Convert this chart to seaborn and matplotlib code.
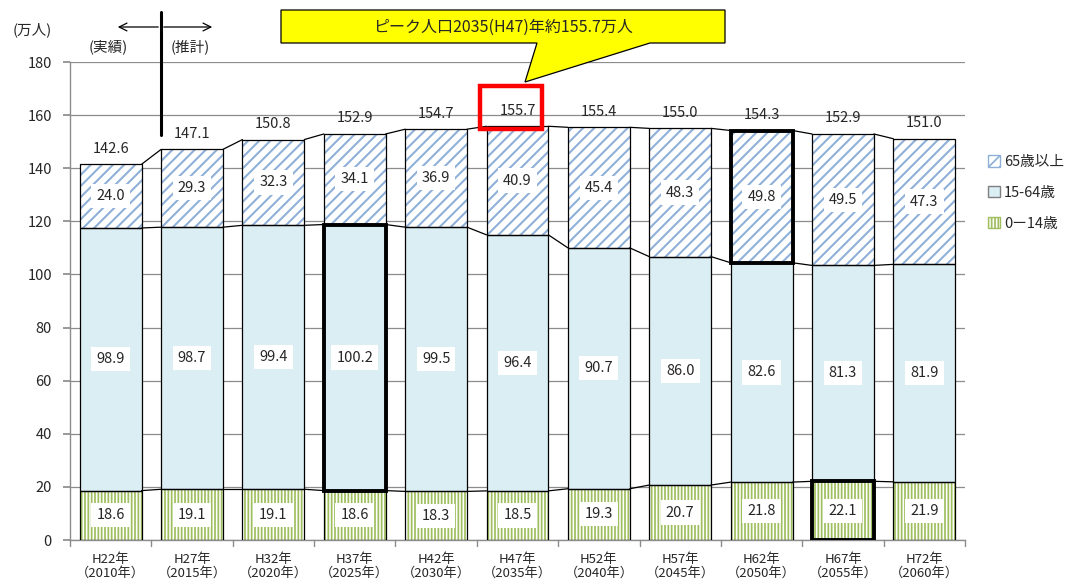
import numpy as np
import pandas as pd
import matplotlib
matplotlib.use("Agg")
import matplotlib.pyplot as plt
from matplotlib.patches import Rectangle, Polygon, Patch
import seaborn as sns

# ---------------- data ----------------
categories = ["H22年\n（2010年）", "H27年\n（2015年）", "H32年\n（2020年）", "H37年\n（2025年）",
              "H42年\n（2030年）", "H47年\n（2035年）", "H52年\n（2040年）", "H57年\n（2045年）",
              "H62年\n（2050年）", "H67年\n（2055年）", "H72年\n（2060年）"]
age_0_14 = [18.6, 19.1, 19.1, 18.6, 18.3, 18.5, 19.3, 20.7, 21.8, 22.1, 21.9]
age_15_64 = [98.9, 98.7, 99.4, 100.2, 99.5, 96.4, 90.7, 86.0, 82.6, 81.3, 81.9]
age_65 = [24.0, 29.3, 32.3, 34.1, 36.9, 40.9, 45.4, 48.3, 49.8, 49.5, 47.3]
totals = [142.6, 147.1, 150.8, 152.9, 154.7, 155.7, 155.4, 155.0, 154.3, 152.9, 151.0]
series_names = ["65歳以上", "15-64歳", "0ー14歳"]
y_ticks = [0, 20, 40, 60, 80, 100, 120, 140, 160, 180]

sns.set_theme(style="white")
plt.rcParams['font.family'] = ['Noto Sans CJK JP', 'DejaVu Sans']

df = pd.DataFrame({"cat": categories, "c1": age_0_14, "c2": age_15_64, "c3": age_65})
df["s1"] = df["c1"]
df["s2"] = df["c1"] + df["c2"]
df["s3"] = df["s2"] + df["c3"]

fig = plt.figure(figsize=(10.8, 5.83), dpi=100)
ax = fig.add_axes([70/1080, 1-540/583, 895/1080, 478/583])

W = 0.76
BLUE_H = "#8fb0d8"
GREEN_H = "#9fbf5e"
layers = [("s3", "#ffffff", BLUE_H, "///", 1.5),
          ("s2", "#daeef3", "#daeef3", None, 1.0),
          ("s1", "#ffffff", GREEN_H, "|||||", 1.25)]
layer_patches = {}
for col, fc, hc, hatch, hlw in layers:
    plt.rcParams['hatch.linewidth'] = hlw
    n0 = len(ax.patches)
    sns.barplot(data=df, x="cat", y=col, ax=ax, width=W, color=fc, saturation=1,
                edgecolor=hc, linewidth=0, hatch=hatch, zorder=2)
    layer_patches[col] = ax.patches[n0:]
    for p in layer_patches[col]:
        if hasattr(p, "set_hatch_linewidth"):
            p.set_hatch_linewidth(hlw)

bottoms = {"s3": df["s2"].values, "s2": df["s1"].values, "s1": np.zeros(len(df))}
tops = {"s3": df["s3"].values, "s2": df["s2"].values, "s1": df["s1"].values}
vals = {"s3": age_65, "s2": age_15_64, "s1": age_0_14}
thick = {("s2", 3), ("s3", 8), ("s1", 9)}
for col in ["s3", "s2", "s1"]:
    for i, p in enumerate(layer_patches[col]):
        x0 = p.get_x(); w = p.get_width()
        b = bottoms[col][i]; t = tops[col][i]
        lw = 2.8 if (col, i) in thick else 0.9
        ax.add_patch(Rectangle((x0, b), w, t - b, fill=False, edgecolor="black",
                               linewidth=lw, zorder=4 if lw > 1 else 3))
        ax.text(x0 + w/2, (b + t)/2, f"{vals[col][i]:.1f}", ha="center", va="center",
                fontsize=10.5, zorder=5,
                bbox=dict(boxstyle="square,pad=0.35", fc="white", ec="none"))

# series lines
for col in ["s1", "s2", "s3"]:
    ps = layer_patches[col]
    for i in range(len(ps) - 1):
        ax.plot([ps[i].get_x() + ps[i].get_width(), ps[i+1].get_x()],
                [tops[col][i], tops[col][i+1]], color="black", lw=0.9, zorder=3)

# total labels
for i, p in enumerate(layer_patches["s3"]):
    ax.text(p.get_x() + p.get_width()/2, tops["s3"][i] + 3.2, f"{totals[i]:.1f}",
            ha="center", va="bottom", fontsize=10.5, zorder=5)

# red highlight around peak label
pk = int(np.argmax(totals))
pp = layer_patches["s3"][pk]
ax.add_patch(Rectangle((pp.get_x() - 0.08, tops["s3"][pk] - 1.0), pp.get_width(), 16.0,
                       fill=False, edgecolor="#ff0000", linewidth=3.2, zorder=6, clip_on=False))

ax.set_ylim(0, 180)
ax.set_xlim(-0.5, len(categories) - 0.5)
ax.set_yticks(y_ticks)
ax.set_yticklabels([str(v) for v in y_ticks], fontsize=10.5)
ax.set_xticks(range(len(categories)))
ax.set_xticklabels(categories, fontsize=9.5, linespacing=1.15)
ax.set_xlabel(""); ax.set_ylabel("")
ax.yaxis.grid(True, color="#8c8c8c", lw=0.9, zorder=0)
ax.set_axisbelow(True)
for s in ["top", "right"]:
    ax.spines[s].set_visible(False)
for s in ["left", "bottom"]:
    ax.spines[s].set_color("#8c8c8c"); ax.spines[s].set_linewidth(1.0)
ax.tick_params(axis="x", length=0, pad=9)
ax.tick_params(axis="y", length=5, color="#8c8c8c", left=True, direction="out", pad=8)
for b in np.arange(-0.5, len(categories), 1.0):
    ax.plot([b, b], [0, -2.2], color="#8c8c8c", lw=1.0, clip_on=False, zorder=1)

# legend
handles = [Patch(facecolor="#ffffff", edgecolor=BLUE_H, hatch="///", label=series_names[0]),
           Patch(facecolor="#daeef3", edgecolor="#7f7f7f", label=series_names[1]),
           Patch(facecolor="#ffffff", edgecolor=GREEN_H, hatch="|||||", label=series_names[2])]
fig.legend(handles=handles, loc="upper left", bbox_to_anchor=(975/1080, 1-142/583),
           frameon=False, fontsize=10.5, handlelength=0.8, handleheight=0.8,
           handletextpad=0.3, labelspacing=1.15)

# overlay for annotations in pixel coordinates
ov = fig.add_axes([0, 0, 1, 1], zorder=10)
ov.set_xlim(0, 1080); ov.set_ylim(583, 0); ov.axis("off"); ov.patch.set_alpha(0)
ov.text(32, 30, "(万人)", ha="center", va="center", fontsize=10.5)
ov.text(108, 47, "(実績)", ha="center", va="center", fontsize=10.5)
ov.text(190, 47, "(推計)", ha="center", va="center", fontsize=10.5)
ov.plot([161, 161], [12, 135], color="black", lw=2.2)
ov.annotate("", xy=(115, 27), xytext=(161, 27),
            arrowprops=dict(arrowstyle="->", lw=0.9, color="black", mutation_scale=14))
ov.annotate("", xy=(215, 27), xytext=(161, 27),
            arrowprops=dict(arrowstyle="->", lw=0.9, color="black", mutation_scale=14))
ov.add_patch(Polygon([(281, 10), (725, 10), (725, 43), (650, 43), (525, 82), (537, 43), (281, 43)],
                     closed=True, facecolor="#ffff00", edgecolor="black", lw=0.9))
ov.text(503, 27, "ピーク人口2035(H47)年約155.7万人", ha="center", va="center", fontsize=11.5)

fig.savefig("out.png", dpi=100)
